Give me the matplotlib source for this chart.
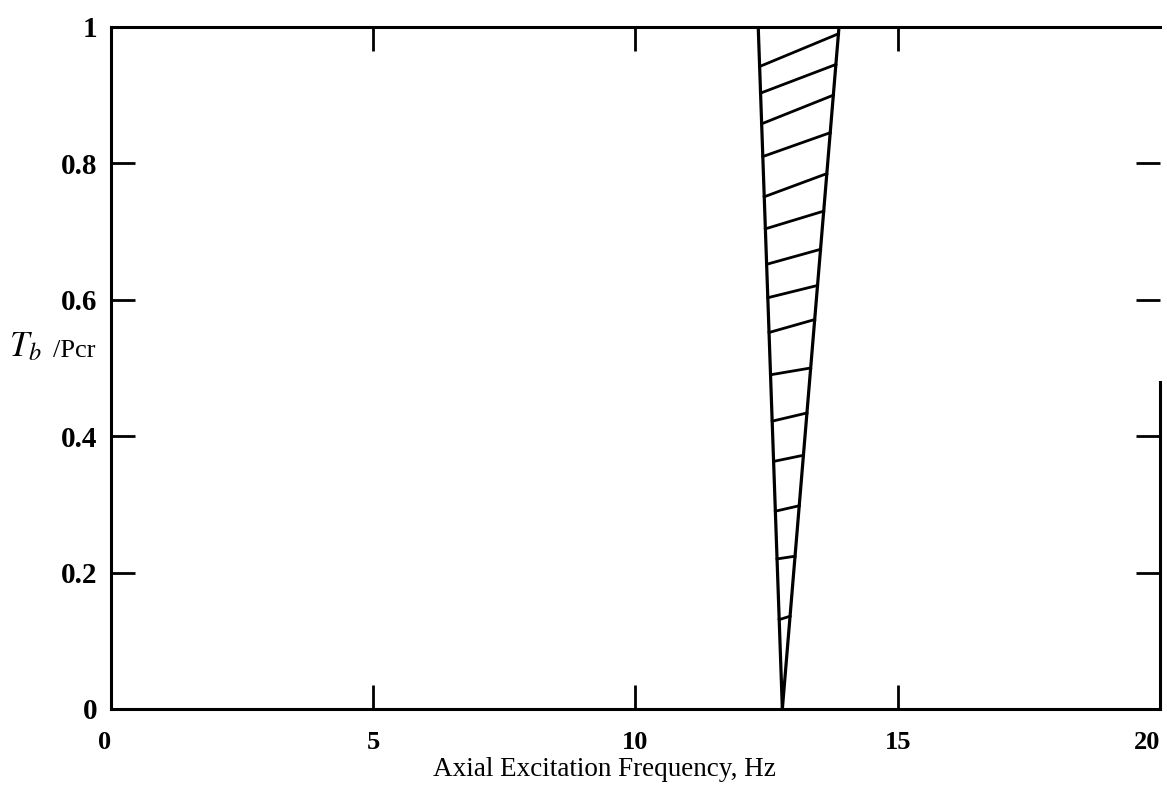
import numpy as np
import matplotlib
matplotlib.use("Agg")
import matplotlib.pyplot as plt

# wedge outline (instability region)
wedge_y = [0.0, 1.0]
wedge_left_x = [12.8, 12.34]
wedge_right_x = [12.8, 13.88]

# hatch segments: height where each one meets the left / right boundary
hatch_y_left = [0.131, 0.22, 0.29, 0.363, 0.422, 0.49, 0.552, 0.603, 0.652,
                0.704, 0.751, 0.81, 0.858, 0.903, 0.942]
hatch_y_right = [0.136, 0.224, 0.298, 0.372, 0.434, 0.50, 0.571, 0.621, 0.674,
                 0.73, 0.785, 0.845, 0.90, 0.945, 0.99]

x_major = [5, 10, 15]
x_ends = [0, 20]
y_major = [0.2, 0.4, 0.6, 0.8]
y_ends = [0, 1]

plt.rcParams['font.family'] = 'Liberation Serif'
plt.rcParams['mathtext.fontset'] = 'stix'

fig = plt.figure(figsize=(11.67, 7.91), dpi=100)
ax = fig.add_axes([0.0951, 0.1037, 0.8989, 0.8622])

lw = 2.3
ax.plot(wedge_left_x, wedge_y, color='black', lw=lw, solid_capstyle='butt')
ax.plot(wedge_right_x, wedge_y, color='black', lw=lw, solid_capstyle='butt')

# hatch lines drawn between the two boundaries
for yl, yr in zip(hatch_y_left, hatch_y_right):
    xl = np.interp(yl, wedge_y, wedge_left_x)
    xr = np.interp(yr, wedge_y, wedge_right_x)
    ax.plot([xl, xr], [yl, yr], color='black', lw=lw - 0.3)

ax.set_xlim(0, 20)
ax.set_ylim(0, 1)

for s in ax.spines.values():
    s.set_linewidth(2.2)
ax.spines['right'].set_bounds(0, 0.48)

ax.set_xticks(x_major)
ax.set_xticklabels([str(v) for v in x_major])
ax.set_xticks(x_ends, minor=True)
ax.set_xticklabels([str(v) for v in x_ends], minor=True)
ax.set_yticks(y_major)
ax.set_yticklabels([str(v) for v in y_major])
ax.set_yticks(y_ends, minor=True)
ax.set_yticklabels([str(v) for v in y_ends], minor=True)

ax.tick_params(which='major', direction='in', length=17, width=2,
               top=True, right=True, pad=16)
ax.tick_params(which='minor', direction='in', length=0, pad=16)
ax.tick_params(axis='y', which='both', pad=10)
for lab in ax.get_xticklabels(which='both'):
    lab.set_fontsize(19)
    lab.set_fontweight('bold')
for lab in ax.get_yticklabels(which='both'):
    lab.set_fontsize(21)
    lab.set_fontweight('bold')
# the end labels sit left of the corners in the scan
ax.get_xticklabels(minor=True)[1].set_horizontalalignment('right')
ax.get_xticklabels(minor=True)[0].set_horizontalalignment('right')

fig.text(0.008, 0.56, r'$T_b$', fontsize=25, va='center')
fig.text(0.045, 0.556, '/Pcr', fontsize=19, va='center')
fig.text(0.518, 0.027, 'Axial Excitation Frequency, Hz', fontsize=19.5,
         ha='center', va='center')

fig.savefig('out.png', dpi=100)
